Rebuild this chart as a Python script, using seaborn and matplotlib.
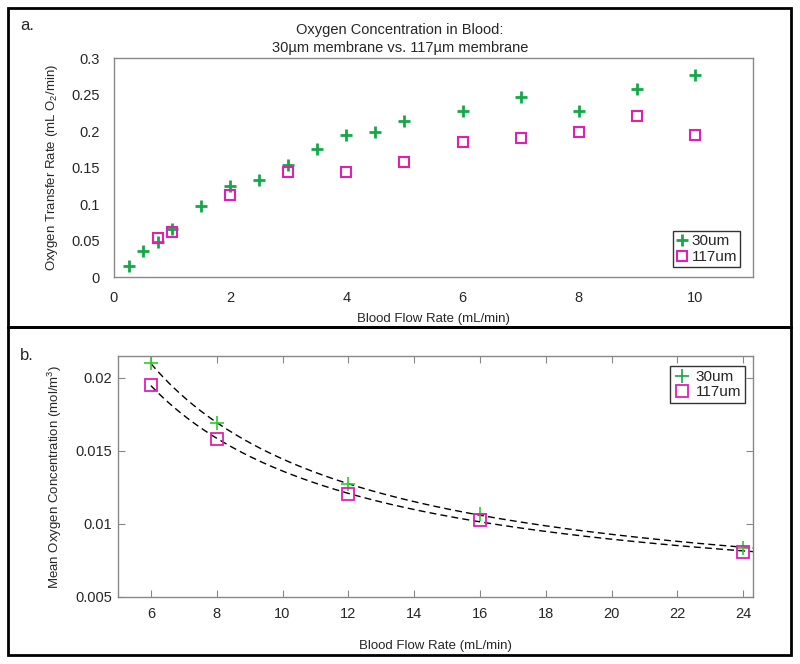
import numpy as np
import pandas as pd
import matplotlib
matplotlib.use('Agg')
import matplotlib.pyplot as plt
from matplotlib.patches import Rectangle
import seaborn as sns

# Panel a data: oxygen transfer rate vs blood flow rate
flow_30 = [0.25, 0.5, 0.75, 1, 1.5, 2, 2.5, 3, 3.5, 4, 4.5, 5, 6, 7, 8, 9, 10]
rate_30 = [0.015, 0.036, 0.048, 0.066, 0.097, 0.125, 0.133, 0.153, 0.175, 0.194,
           0.198, 0.214, 0.227, 0.247, 0.227, 0.257, 0.277]
flow_117 = [0.75, 1, 2, 3, 4, 5, 6, 7, 8, 9, 10]
rate_117 = [0.054, 0.061, 0.113, 0.144, 0.144, 0.158, 0.185, 0.190, 0.199, 0.220, 0.195]

# Panel b data: mean oxygen concentration vs blood flow rate
flow_b = [6, 8, 12, 16, 24]
conc_30 = [0.0210, 0.0169, 0.01275, 0.01068, 0.00836]
conc_117 = [0.0195, 0.0158, 0.01207, 0.0103, 0.00807]

labels = ['30um', '117um']
green = '#14a84a'
green_b = '#2ccc2c'
magenta = '#e020b4'

sns.set_style('white')
plt.rcParams['font.family'] = ['Liberation Sans', 'DejaVu Sans']
plt.rcParams['mathtext.fontset'] = 'custom'
plt.rcParams['mathtext.rm'] = 'Liberation Sans'

fig = plt.figure(figsize=(8, 6.64), dpi=100)

# outer frames of the two panels
fig.patches.append(Rectangle((8 / 800, 1 - 327 / 664), 783 / 800, 319 / 664,
                             transform=fig.transFigure, fill=False, lw=2, ec='black'))
fig.patches.append(Rectangle((8 / 800, 1 - 655 / 664), 783 / 800, 328 / 664,
                             transform=fig.transFigure, fill=False, lw=2, ec='black'))

# ---------------- panel a ----------------
ax1 = fig.add_axes([114 / 800, 1 - 277 / 664, 639 / 800, 219 / 664])
df_a30 = pd.DataFrame({'x': flow_30, 'y': rate_30})
df_a117 = pd.DataFrame({'x': flow_117, 'y': rate_117})
sns.lineplot(data=df_a30, x='x', y='y', ax=ax1, linestyle='none', marker='+',
             markersize=9, markeredgewidth=2, markeredgecolor=green, color=green,
             label=labels[0])
sns.lineplot(data=df_a117, x='x', y='y', ax=ax1, linestyle='none', marker='s',
             markersize=7, markerfacecolor='none', markeredgecolor=magenta,
             markeredgewidth=1.5, color=magenta, label=labels[1])
ax1.set_xlim(0, 11)
ax1.set_ylim(0, 0.3)
ax1.set_xticks([0, 2, 4, 6, 8, 10])
ax1.set_yticks([0, 0.05, 0.1, 0.15, 0.2, 0.25, 0.3])
ax1.set_yticklabels(['0', '0.05', '0.1', '0.15', '0.2', '0.25', '0.3'])
ax1.tick_params(axis='x', direction='in', length=3, color='#999999', pad=10, labelsize=10.5)
ax1.tick_params(axis='y', length=0, pad=10, labelsize=10.5)
for s in ax1.spines.values():
    s.set_color('#888888')
    s.set_linewidth(1)
ax1.set_xlabel('Blood Flow Rate (mL/min)', fontsize=9.5, labelpad=6)
ax1.set_ylabel('Oxygen Transfer Rate (mL O$_2$/min)', fontsize=9.5, labelpad=8)
leg = ax1.legend(loc='lower right', bbox_to_anchor=(0.98, 0.046), borderaxespad=0,
                 fontsize=11, frameon=True, fancybox=False, edgecolor='black',
                 handlelength=0.8, handletextpad=0.2, borderpad=0.2, labelspacing=0.1)
leg.get_frame().set_linewidth(1)

fig.text(0.5, 1 - 30 / 664, 'Oxygen Concentration in Blood:', ha='center', va='center', fontsize=10.5)
fig.text(0.5, 1 - 48 / 664, '30\u00b5m membrane vs. 117\u00b5m membrane', ha='center', va='center', fontsize=10.5)
fig.text(20 / 800, 1 - 26 / 664, 'a.', ha='left', va='center', fontsize=12)
fig.text(20 / 800, 1 - 355 / 664, 'b.', ha='left', va='center', fontsize=12)

# ---------------- panel b ----------------
ax2 = fig.add_axes([118 / 800, 1 - 597 / 664, 635 / 800, 241 / 664])
xlim_b = (5.0, 24.3)
xs = np.linspace(flow_b[0], xlim_b[1], 200)
for conc in (conc_30, conc_117):
    # smooth trendline fitted to the points (quadratic in 1/x)
    coef = np.polyfit(1 / np.array(flow_b, dtype=float), conc, 2)
    fit = pd.DataFrame({'x': xs, 'y': np.polyval(coef, 1 / xs)})
    sns.lineplot(data=fit, x='x', y='y', ax=ax2, color='black', linestyle=(0, (5, 3)),
                 linewidth=1)
df_b30 = pd.DataFrame({'x': flow_b, 'y': conc_30})
df_b117 = pd.DataFrame({'x': flow_b, 'y': conc_117})
sns.lineplot(data=df_b30, x='x', y='y', ax=ax2, linestyle='none', marker='+',
             markersize=10, markeredgewidth=1.2, markeredgecolor=green_b, color=green_b,
             label=labels[0])
sns.lineplot(data=df_b117, x='x', y='y', ax=ax2, linestyle='none', marker='s',
             markersize=8, markerfacecolor='none', markeredgecolor=magenta,
             markeredgewidth=1.3, color=magenta, label=labels[1])
ax2.set_xlim(*xlim_b)
ax2.set_ylim(0.005, 0.0215)
ax2.set_xticks(list(range(6, 25, 2)))
ax2.set_yticks([0.005, 0.01, 0.015, 0.02])
ax2.set_yticklabels(['0.005', '0.01', '0.015', '0.02'])
ax2.tick_params(axis='both', which='both', direction='in', length=5, color='#888888',
                top=True, right=True, bottom=True, left=True, labelsize=10.5)
ax2.tick_params(axis='x', pad=7)
ax2.tick_params(axis='y', pad=4)
for s in ax2.spines.values():
    s.set_color('#888888')
    s.set_linewidth(1)
ax2.set_xlabel('Blood Flow Rate (mL/min)', fontsize=9.5, labelpad=14)
ax2.set_ylabel('Mean Oxygen Concentration (mol/m$^3$)', fontsize=9.5, labelpad=8)
handles, lbls = ax2.get_legend_handles_labels()
leg2 = ax2.legend(handles[-2:], lbls[-2:], loc='upper right', bbox_to_anchor=(0.987, 0.958),
                  borderaxespad=0, fontsize=11, frameon=True, fancybox=False,
                  edgecolor='black', handlelength=1.0, handletextpad=0.4, borderpad=0.25,
                  labelspacing=0.1)
leg2.get_frame().set_linewidth(1)
leg2.legend_handles[0].set_markeredgecolor(green)

plt.savefig('out.png', dpi=100)
